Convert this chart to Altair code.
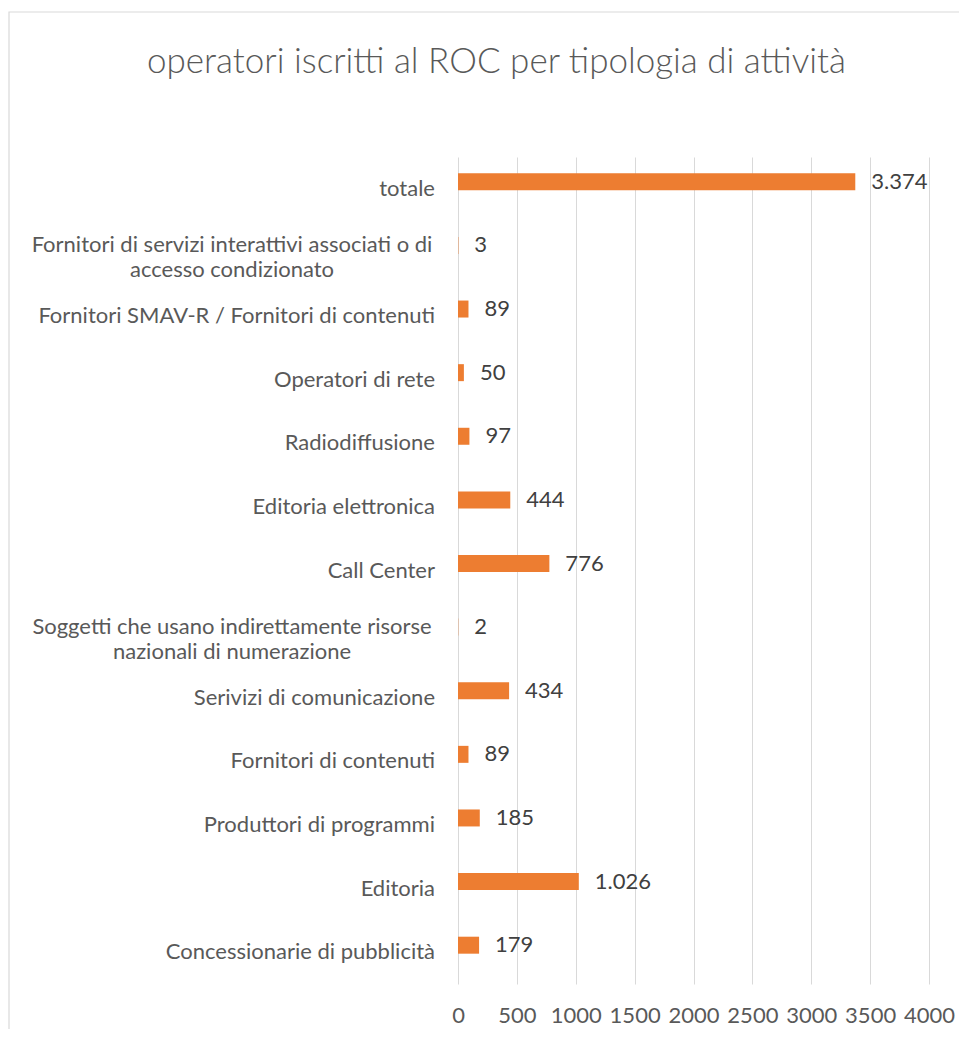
import altair as alt
import pandas as pd

categories = [
    "totale",
    "Fornitori di servizi interattivi associati o di\naccesso condizionato",
    "Fornitori SMAV-R / Fornitori di contenuti",
    "Operatori di rete",
    "Radiodiffusione",
    "Editoria elettronica",
    "Call Center",
    "Soggetti che usano indirettamente risorse\nnazionali di numerazione",
    "Serivizi di comunicazione",
    "Fornitori di contenuti",
    "Produttori di programmi",
    "Editoria",
    "Concessionarie di pubblicità",
]
values = [3374, 3, 89, 50, 97, 444, 776, 2, 434, 89, 185, 1026, 179]
x_ticks = [0, 500, 1000, 1500, 2000, 2500, 3000, 3500, 4000]

df = pd.DataFrame({
    "cat": categories,
    "val": values,
    "lab": [f"{v:,}".replace(",", ".") for v in values],
    "multi": ["\n" in c for c in categories],
})

W, H = 471, 827
FONT = "Lato"
GRAY = "#595959"
FS = 22

yscale = alt.Scale(paddingInner=0.733, paddingOuter=0.3665)
yenc = alt.Y("cat:N", sort=categories, scale=yscale, axis=None)
xenc = alt.X(
    "val:Q",
    scale=alt.Scale(domain=[0, 4000], nice=False),
    axis=alt.Axis(
        values=x_ticks, format="d", title=None, grid=True, gridColor="#d9d9d9", gridWidth=1,
        domain=False, ticks=False, labelFont=FONT, labelFontSize=FS,
        labelColor=GRAY, labelPadding=21, labelFlush=False,
    ),
)

base = alt.Chart(df)

bars = base.mark_bar(color="#ED7D31", yOffset=-7).encode(x=xenc, y=yenc)

vals = base.mark_text(
    align="left", baseline="middle", dx=16, yOffset=-7, font=FONT, fontSize=FS, color="#404040"
).encode(x="val:Q", y=yenc, text="lab:N")

single = base.transform_filter("!datum.multi").mark_text(
    align="right", baseline="middle", font=FONT, fontSize=FS, color=GRAY
).encode(x=alt.value(-23), y=yenc, text="cat:N")

multi = base.transform_filter("datum.multi").mark_text(
    align="center", baseline="middle", font=FONT, fontSize=FS, color=GRAY,
    lineBreak="\n", lineHeight=25, dy=-7
).encode(x=alt.value(-226), y=yenc, text="cat:N")

border = alt.Chart(alt.Data(values=[{"a": 1}])).mark_rect(
    fill=None, stroke="#d9d9d9", strokeWidth=1.2
).encode(x=alt.value(-449), x2=alt.value(W + 200), y=alt.value(-145), y2=alt.value(H + 200))

chart = alt.layer(border, bars, vals, single, multi).properties(
    width=W, height=H,
    title=alt.TitleParams(
        "operatori iscritti al ROC per tipologia di attività",
        font=FONT, fontSize=35, fontWeight=300, color=GRAY,
        anchor="middle", dx=-197, offset=-69,
    ),
    autosize=alt.AutoSizeParams(type="none"),
    padding={"left": 450, "top": 149, "right": 30, "bottom": 45},
).configure_view(stroke=None)

chart.save("out.html", embed_options={"renderer": "svg", "actions": False})
